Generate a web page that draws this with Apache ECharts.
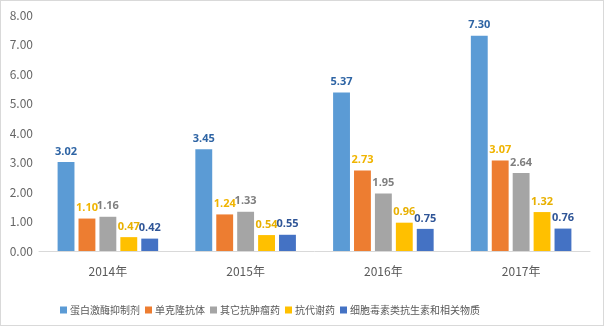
<!DOCTYPE html>
<html><head><meta charset="utf-8">
<script src="https://cdn.jsdelivr.net/npm/echarts@6/dist/echarts.min.js"></script>
<style>html,body{margin:0;padding:0;background:#fff}#c{width:602px;height:324px;border:1px solid #d9d9d9}</style>
</head><body><div id="c"></div>
<script>
const categories = ['2014年','2015年','2016年','2017年'];
const seriesNames = ['蛋白激酶抑制剂','单克隆抗体','其它抗肿瘤药','抗代谢药','细胞毒素类抗生素和相关物质'];
const s1 = [3.02, 3.45, 5.37, 7.30];
const s2 = [1.10, 1.24, 2.73, 3.07];
const s3 = [1.16, 1.33, 1.95, 2.64];
const s4 = [0.47, 0.54, 0.96, 1.32];
const s5 = [0.42, 0.55, 0.75, 0.76];
const colors = ['#5b9bd5','#ed7d31','#a5a5a5','#ffc000','#4472c4'];
const labelColors = ['#2e64a4','#f0b400','#7f7f7f','#e8b000','#2f5597'];
const data = [s1,s2,s3,s4,s5];
const font = '"Noto Sans CJK SC", "Open Sans", sans-serif';
const chart = echarts.init(document.getElementById('c'));
chart.setOption({
  animation:false,
  color: colors,
  grid:{left:38,right:13,top:14,bottom:74},
  legend:{left:54,top:299,itemWidth:7,itemHeight:7,itemGap:5,icon:'rect',
    textStyle:{fontSize:10,color:'#595959',fontFamily:font,padding:[0,0,0,-2]}},
  xAxis:{type:'category',data:categories,
    axisLine:{lineStyle:{color:'#d9d9d9'}},axisTick:{show:false},
    axisLabel:{color:'#595959',fontSize:12,margin:14,fontFamily:font}},
  yAxis:{type:'value',min:0,max:8,interval:1,
    splitLine:{show:false},axisLine:{show:false},axisTick:{show:false},
    axisLabel:{color:'#666666',fontSize:12,margin:6,formatter:v=>v.toFixed(2),fontFamily:font}},
  series: data.map((d,i)=>({
    name:seriesNames[i],type:'bar',data:d,barGap:'24%',barCategoryGap:'27%',
    label:{show:true,position:'top',color:labelColors[i],fontWeight:'bold',fontSize:11,
      fontFamily:'"Open Sans", sans-serif',formatter:p=>p.value.toFixed(2)}
  }))
});
</script></body></html>
